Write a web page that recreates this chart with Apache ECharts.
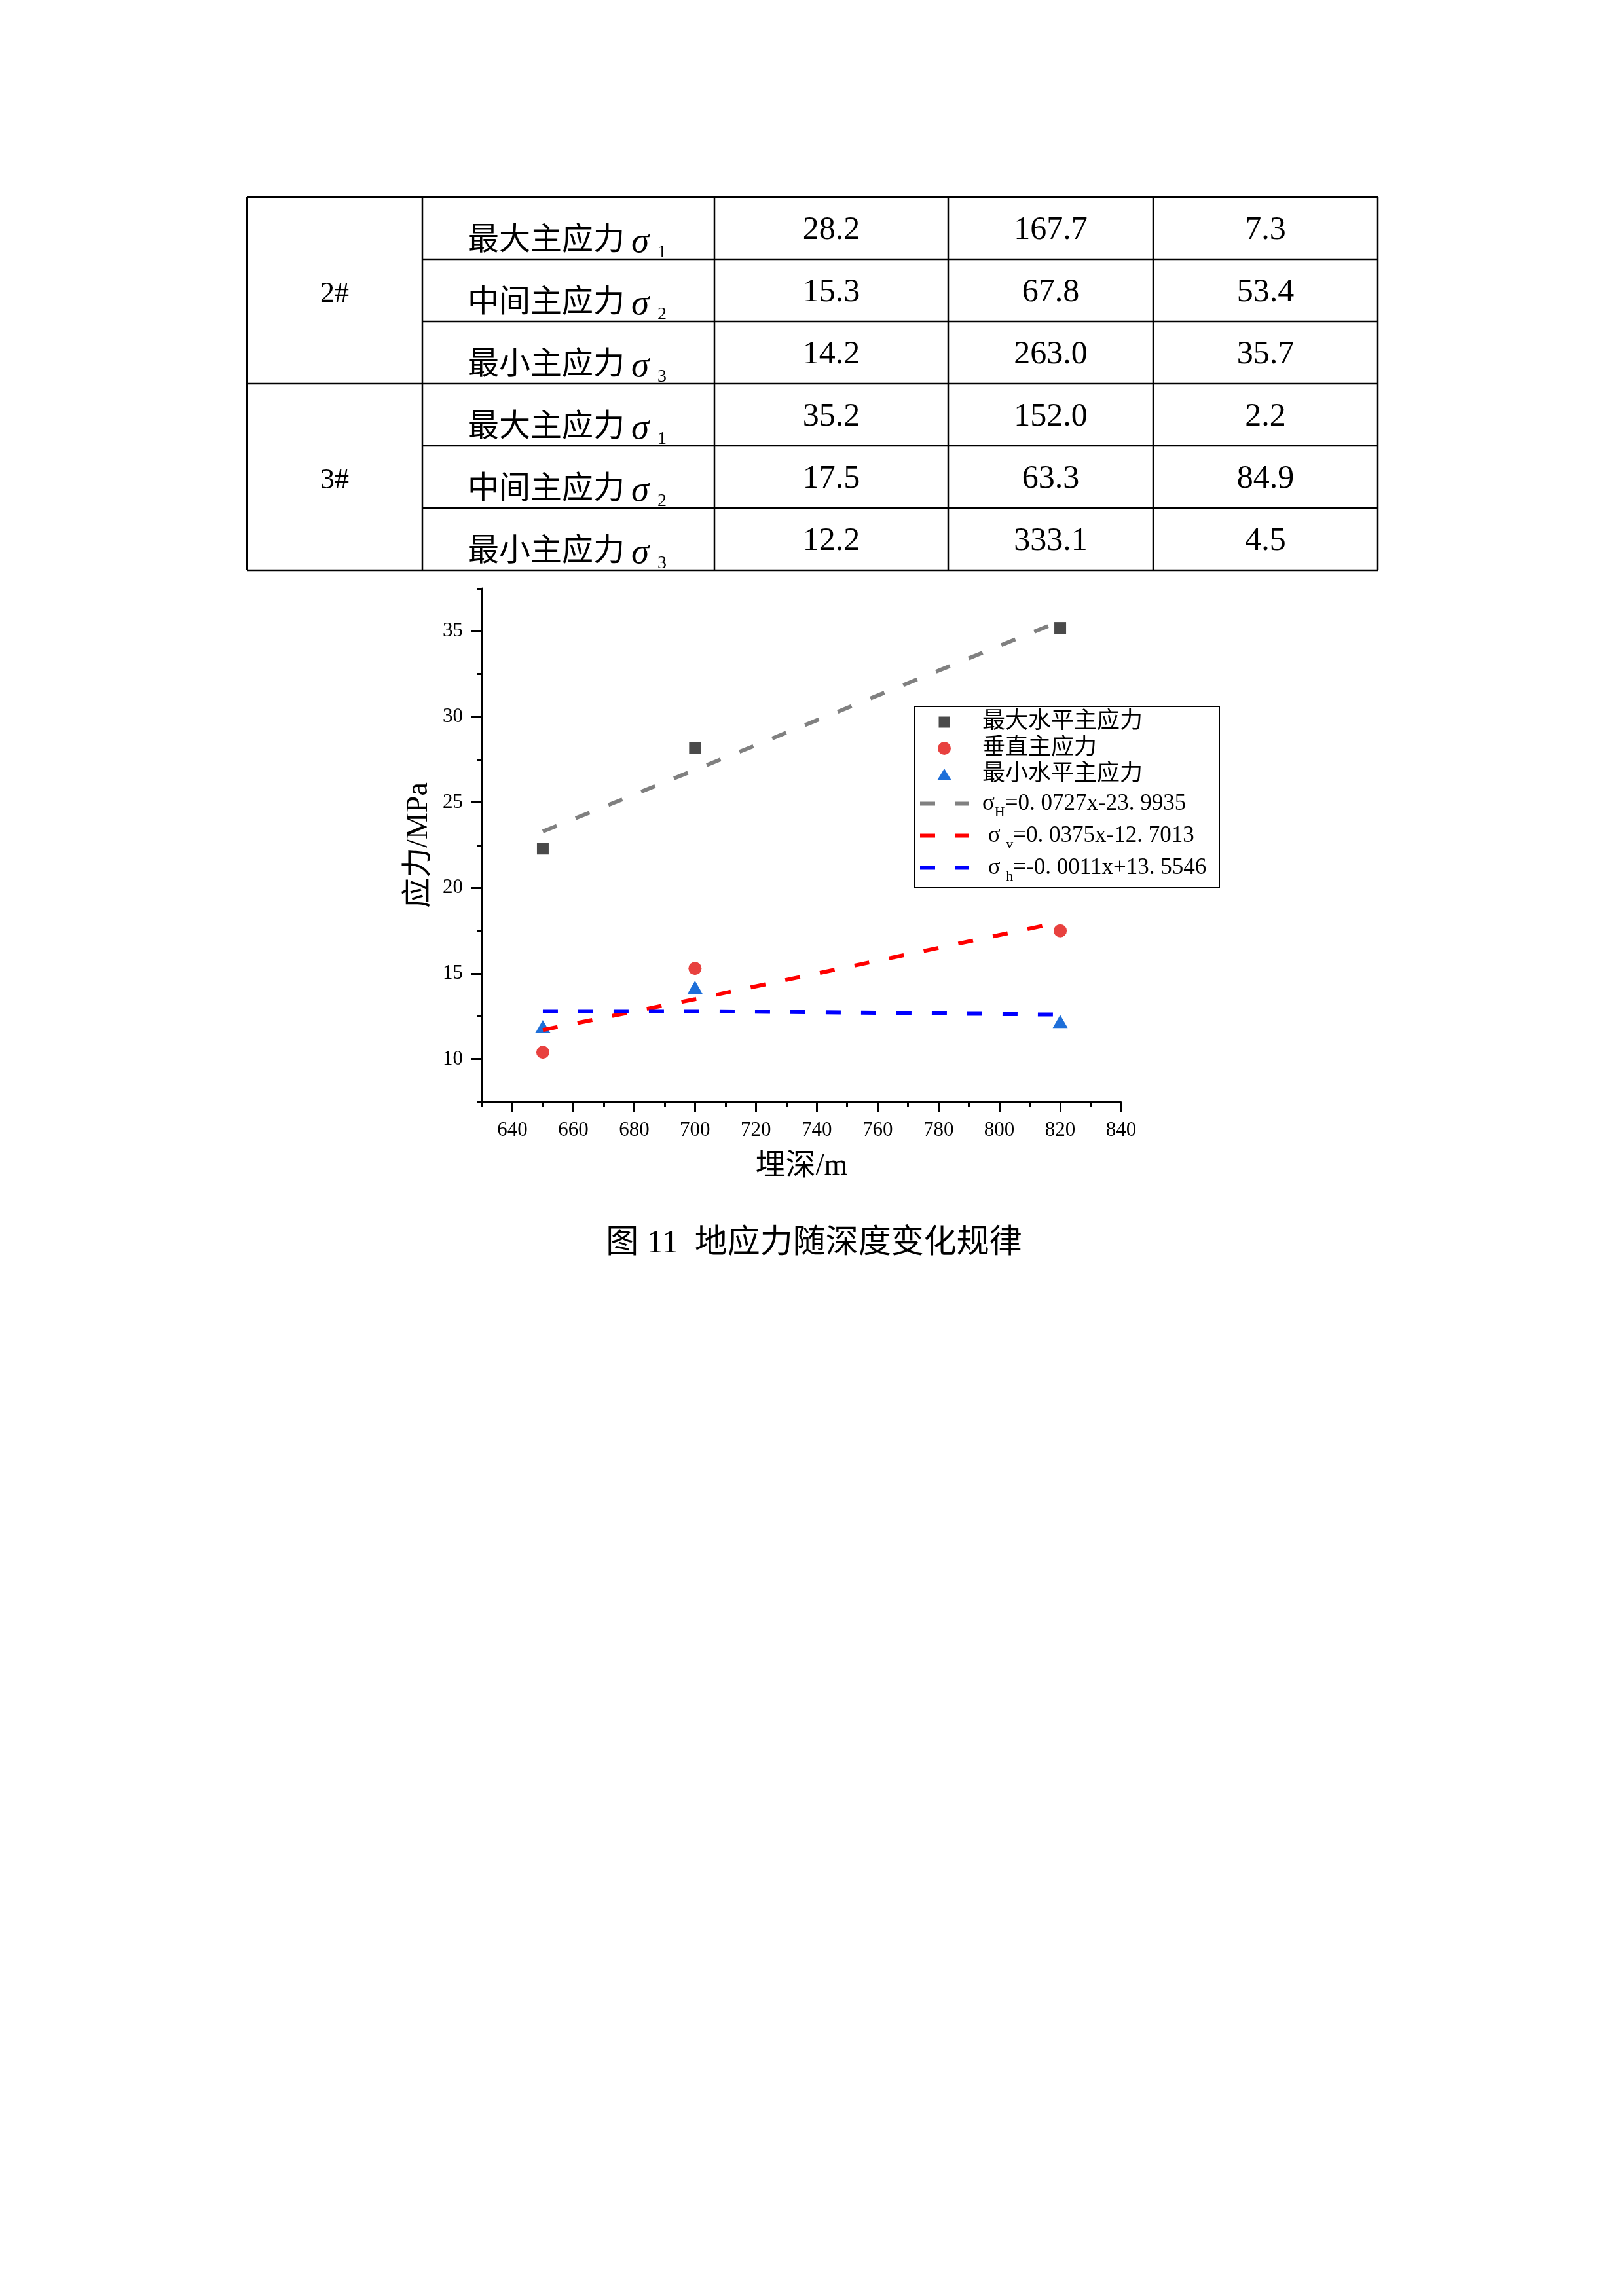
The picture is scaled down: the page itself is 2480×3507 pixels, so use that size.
<!DOCTYPE html>
<html>
<head>
<meta charset="utf-8">
<script src="https://cdn.jsdelivr.net/npm/echarts@6/dist/echarts.min.js"></script>
<style>
html,body{margin:0;padding:0;background:#fff;}
#c{position:absolute;left:0;top:0;width:2480px;height:3507px;}
</style>
</head>
<body>
<div id="c"></div>
<script>
// ---------- table data ----------
const stations = ['2#', '3#'];
const stressNames = ['最大主应力', '中间主应力', '最小主应力'];
const sigmaSubs = ['1', '2', '3'];
const magnitudes = [[28.2, 15.3, 14.2], [35.2, 17.5, 12.2]];
const azimuths = [[167.7, 67.8, 263.0], [152.0, 63.3, 333.1]];
const dips = [[7.3, 53.4, 35.7], [2.2, 84.9, 4.5]];

// ---------- chart data ----------
const depth = [650, 700, 820];
const sigmaHmax = [22.3, 28.2, 35.2];
const sigmaVert = [10.4, 15.3, 17.5];
const sigmaHmin = [11.9, 14.2, 12.2];
const fitDepth = [650, 700, 820];
const fitHmax = [23.3, 26.9, 35.6];
const fitVert = [11.7, 13.5, 18.0];
const fitHmin = [12.8, 12.8, 12.6];

const xMajorTicks = [640, 660, 680, 700, 720, 740, 760, 780, 800, 820, 840];
const xMinorTicks = [630, 650, 670, 690, 710, 730, 750, 770, 790, 810, 830];
const yMajorTicks = [10, 15, 20, 25, 30, 35];
const yMinorTicks = [7.5, 12.5, 17.5, 22.5, 27.5, 32.5, 37.5];

const pointNames = ['最大水平主应力', '垂直主应力', '最小水平主应力'];
const fitNames = ['σH=0.0727x-23.9935', 'σv=0.0375x-12.7013', 'σh=-0.0011x+13.5546'];
const fitLegendText = [
  '{s|σ}{sub|H}{s|=0. 0727x-23. 9935}',
  '{s| σ }{sub|v}{s|=0. 0375x-12. 7013}',
  '{s| σ }{sub|h}{s|=-0. 0011x+13. 5546}'
];
const xAxisName = '埋深/m';
const yAxisName = '应力/MPa';
const caption = '图 11  地应力随深度变化规律';

// ---------- layout ----------
const FF = "'Liberation Serif','Noto Sans CJK SC'";
const SERIF = "'Liberation Serif'";
const CJK = "'Noto Sans CJK SC'";
const colX = [377, 645, 1091, 1448, 1761, 2104];
const rowY = [301, 396, 491, 586, 681, 776, 871];

const graphics = [];
function hline(x1, x2, y, w) {
  graphics.push({type: 'line', silent: true, shape: {x1: x1, y1: y, x2: x2, y2: y}, style: {stroke: '#000', lineWidth: w}});
}
function vline(x, y1, y2, w) {
  graphics.push({type: 'line', silent: true, shape: {x1: x, y1: y1, x2: x, y2: y2}, style: {stroke: '#000', lineWidth: w}});
}
function txt(text, x, y, size, family, align, extra) {
  const style = Object.assign({text: text, x: 0, y: 0, fontSize: size, fontFamily: family, fill: '#000', align: align, verticalAlign: 'middle'}, extra || {});
  graphics.push({type: 'text', silent: true, x: x, y: y, style: style});
}

// table grid
hline(colX[0], colX[5], rowY[0], 2.5);
hline(colX[0], colX[5], rowY[3], 2.5);
hline(colX[0], colX[5], rowY[6], 2.5);
[1, 2, 4, 5].forEach(function (r) { hline(colX[1], colX[5], rowY[r], 2.5); });
colX.forEach(function (x) { vline(x, rowY[0], rowY[6], 2.5); });

// table text
stations.forEach(function (st, s) {
  const gTop = rowY[s * 3], gBot = rowY[s * 3 + 3];
  txt(st, (colX[0] + colX[1]) / 2, (gTop + gBot) / 2 + 6, 44, SERIF, 'center');
  for (let k = 0; k < 3; k++) {
    const top = rowY[s * 3 + k];
    txt(stressNames[k], 714, top + 62, 48, CJK, 'left');
    txt('σ', 964, top + 70, 55, SERIF, 'left', {fontStyle: 'italic'});
    txt(sigmaSubs[k], 1004, top + 85, 28, SERIF, 'left');
    const vals = [magnitudes[s][k], azimuths[s][k], dips[s][k]];
    vals.forEach(function (v, c) {
      txt(v.toFixed(1), (colX[c + 2] + colX[c + 3]) / 2, top + 51, 50, SERIF, 'center');
    });
  }
});

// legend border
graphics.push({type: 'rect', silent: true, shape: {x: 1397, y: 1079, width: 465, height: 277}, style: {fill: 'none', stroke: '#000', lineWidth: 2}});
// caption
txt(caption, 1243, 1900, 50, FF, 'center');

// ---------- series ----------
function pairs(xs, ys) { return xs.map(function (x, i) { return [x, ys[i]]; }); }
const dash = [23, 31];
const LW = 6;

const legendData = [
  {name: pointNames[0], icon: 'path://M0,0M1.5,1.5H18.5V18.5H1.5ZM20,20'},
  {name: pointNames[1], icon: 'circle'},
  {name: pointNames[2], icon: 'path://M0,0M11,1L22,19H0ZM22,20'},
  {name: fitNames[0], itemStyle: {opacity: 0}},
  {name: fitNames[1], itemStyle: {opacity: 0}},
  {name: fitNames[2], itemStyle: {opacity: 0}}
];

const option = {
  animation: false,
  backgroundColor: '#fff',
  grid: {left: 736, top: 899, width: 976, height: 784, containLabel: false},
  xAxis: [
    {
      type: 'value', min: 630, max: 840, position: 'bottom',
      name: xAxisName, nameLocation: 'middle', nameGap: 76,
      nameTextStyle: {fontSize: 46, fontFamily: FF, color: '#000'},
      axisLine: {show: true, onZero: false, lineStyle: {color: '#000', width: 3}},
      axisTick: {show: true, inside: false, length: 16, lineStyle: {color: '#000', width: 3}, customValues: xMajorTicks},
      axisLabel: {show: true, margin: 28, fontSize: 31, fontFamily: SERIF, color: '#000', customValues: xMajorTicks},
      splitLine: {show: false}
    },
    {
      type: 'value', min: 630, max: 840, position: 'bottom',
      axisLine: {show: false},
      axisTick: {show: true, inside: false, length: 8, lineStyle: {color: '#000', width: 3}, customValues: xMinorTicks},
      axisLabel: {show: false},
      splitLine: {show: false}
    }
  ],
  yAxis: [
    {
      type: 'value', min: 7.5, max: 37.5, position: 'left',
      name: yAxisName, nameLocation: 'middle', nameGap: 73,
      nameTextStyle: {fontSize: 46, fontFamily: FF, color: '#000'},
      axisLine: {show: true, onZero: false, lineStyle: {color: '#000', width: 3}},
      axisTick: {show: true, inside: false, length: 16, lineStyle: {color: '#000', width: 3}, customValues: yMajorTicks},
      axisLabel: {show: true, margin: 29, fontSize: 31, fontFamily: SERIF, color: '#000', customValues: yMajorTicks},
      splitLine: {show: false}
    },
    {
      type: 'value', min: 7.5, max: 37.5, position: 'left',
      axisLine: {show: false},
      axisTick: {show: true, inside: false, length: 8, lineStyle: {color: '#000', width: 3}, customValues: yMinorTicks},
      axisLabel: {show: false},
      splitLine: {show: false}
    }
  ],
  legend: {
    orient: 'vertical', left: 1397, top: 1079, padding: [4, 5, 5, 5],
    itemWidth: 74, itemHeight: 20, itemGap: 0, selectedMode: false,
    symbolKeepAspect: true,
    lineStyle: {width: LW},
    data: legendData,
    formatter: function (name) {
      const i = fitNames.indexOf(name);
      return i >= 0 ? fitLegendText[i] : name;
    },
    textStyle: {
      fontSize: 35, fontFamily: FF, color: '#000', lineHeight: 40, padding: [0, 0, 0, 16],
      rich: {
        s: {fontSize: 35, fontFamily: SERIF, color: '#000', lineHeight: 49},
        sub: {fontSize: 22, fontFamily: SERIF, color: '#000', lineHeight: 22, verticalAlign: 'bottom'}
      }
    }
  },
  series: [
    {name: pointNames[0], type: 'scatter', symbol: 'rect', symbolSize: 18, itemStyle: {color: '#4a4a4a', opacity: 1}, data: pairs(depth, sigmaHmax)},
    {name: pointNames[1], type: 'scatter', symbol: 'circle', symbolSize: 20, itemStyle: {color: '#e8413f', opacity: 1}, data: pairs(depth, sigmaVert)},
    {name: pointNames[2], type: 'scatter', symbol: 'triangle', symbolSize: [23, 20], itemStyle: {color: '#1e6fd9', opacity: 1}, data: pairs(depth, sigmaHmin)},
    {name: fitNames[0], type: 'line', symbol: 'none', showSymbol: false, itemStyle: {color: '#808080'}, lineStyle: {color: '#808080', width: LW, type: dash, cap: 'butt'}, data: pairs(fitDepth, fitHmax)},
    {name: fitNames[1], type: 'line', symbol: 'none', showSymbol: false, itemStyle: {color: '#ff0000'}, lineStyle: {color: '#ff0000', width: LW, type: dash, cap: 'butt'}, data: pairs(fitDepth, fitVert)},
    {name: fitNames[2], type: 'line', symbol: 'none', showSymbol: false, itemStyle: {color: '#0000ff'}, lineStyle: {color: '#0000ff', width: LW, type: dash, cap: 'butt'}, data: pairs(fitDepth, fitHmin)}
  ],
  graphic: graphics
};

const chart = echarts.init(document.getElementById('c'), null, {renderer: 'canvas', width: 2480, height: 3507});
chart.setOption(option);
</script>
</body>
</html>
